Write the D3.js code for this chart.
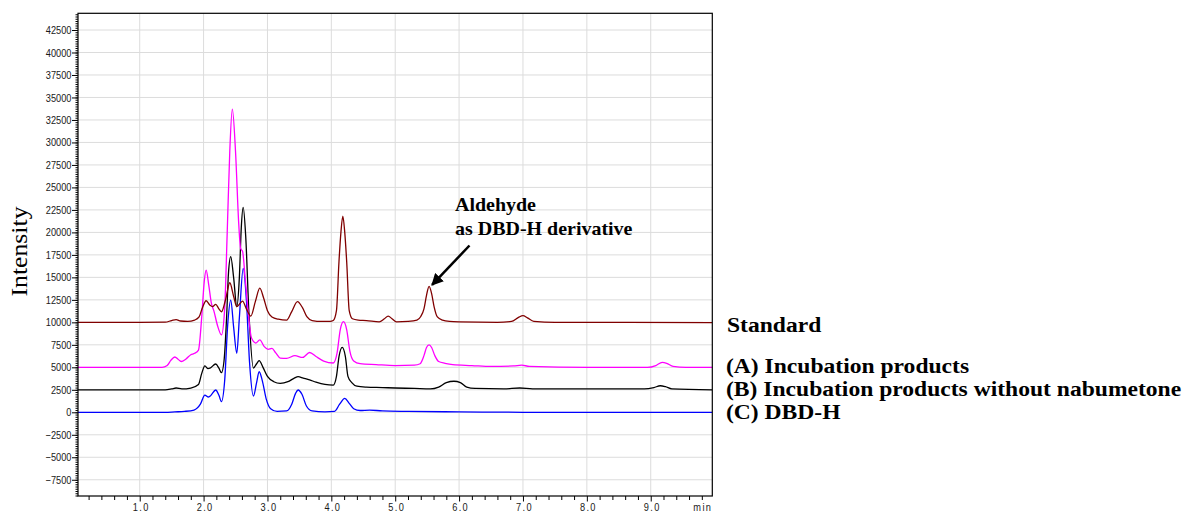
<!DOCTYPE html>
<html>
<head>
<meta charset="utf-8">
<script src="https://cdn.jsdelivr.net/npm/d3@7/dist/d3.min.js"></script>
<style>
  html, body { margin: 0; padding: 0; background: #fff; }
  svg { display: block; }
  .tick text { font-family: "Liberation Sans", Arial, sans-serif; font-size: 11px; fill: #1a1a1a; }
</style>
</head>
<body>
<svg id="chart" width="1184" height="513"></svg>
<script>
// ---- data (time in min, intensity) ----
const standardPoints = [[0.03,10000],[1.0,10000],[1.40,10020],[1.50,10200],[1.57,10300],[1.64,10150],[1.75,10100],[1.86,10250],[1.93,10600],[1.98,11600],[2.04,12400],[2.10,11900],[2.14,11750],[2.19,12000],[2.24,11500],[2.28,11180],[2.35,12700],[2.41,14400],[2.47,12900],[2.52,11750],[2.57,12100],[2.61,12350],[2.67,11500],[2.74,10700],[2.81,12300],[2.88,13800],[2.94,12700],[3.00,11300],[3.07,10600],[3.17,10350],[3.30,10250],[3.38,11200],[3.47,12300],[3.55,11600],[3.62,10600],[3.70,10200],[3.85,10100],[3.98,10100],[4.03,10200],[4.08,11300],[4.12,16800],[4.15,20000],[4.18,21800],[4.21,20000],[4.24,16800],[4.28,11300],[4.33,10400],[4.42,10250],[4.55,10200],[4.75,10050],[4.83,10400],[4.89,10700],[4.95,10400],[5.02,10050],[5.20,10100],[5.34,10250],[5.40,10650],[5.45,11500],[5.49,13000],[5.53,14000],[5.57,13200],[5.61,11700],[5.66,10600],[5.74,10250],[5.85,10100],[6.00,10050],[6.60,10000],[6.82,10100],[6.93,10550],[7.00,10750],[7.07,10500],[7.17,10100],[7.50,10000],[8.50,10000],[9.96,9980]];
const incubationPoints = [[0.03,5000],[1.35,5000],[1.43,5200],[1.49,5800],[1.55,6150],[1.60,5900],[1.65,5650],[1.72,5900],[1.80,6400],[1.86,6560],[1.92,6920],[1.97,10500],[2.01,14500],[2.04,15800],[2.08,14200],[2.12,12200],[2.16,11300],[2.22,9600],[2.28,8600],[2.33,11500],[2.37,20000],[2.41,29000],[2.45,33700],[2.50,29000],[2.55,21000],[2.58,18200],[2.61,17900],[2.65,15000],[2.70,11000],[2.75,8260],[2.82,7700],[2.88,8050],[2.95,7300],[3.01,7000],[3.07,7100],[3.13,6600],[3.20,6030],[3.30,6000],[3.43,6300],[3.55,6100],[3.66,6650],[3.76,6200],[3.88,5700],[4.03,5480],[4.09,6600],[4.14,9200],[4.19,10070],[4.24,9200],[4.29,6800],[4.35,5700],[4.45,5400],[4.70,5300],[5.00,5200],[5.30,5250],[5.39,5400],[5.45,6300],[5.49,7200],[5.53,7500],[5.57,7200],[5.62,6300],[5.68,5650],[5.78,5450],[5.90,5300],[6.20,5200],[6.50,5100],[6.85,5150],[6.98,5250],[7.10,5100],[8.00,5000],[8.95,5000],[9.08,5200],[9.18,5550],[9.25,5450],[9.35,5100],[9.55,5000],[9.96,5000]];
const withoutNabumetonePoints = [[0.03,2500],[1.40,2500],[1.50,2600],[1.57,2700],[1.66,2600],[1.80,2700],[1.92,3100],[1.97,4300],[2.02,5150],[2.07,4850],[2.10,4900],[2.19,5370],[2.24,4900],[2.28,4400],[2.32,5700],[2.36,10500],[2.39,15500],[2.425,17300],[2.47,15000],[2.52,11740],[2.56,15000],[2.59,20500],[2.62,22780],[2.66,19500],[2.71,11000],[2.78,4920],[2.83,5400],[2.87,5740],[2.93,5000],[3.00,4000],[3.10,3400],[3.20,3220],[3.32,3400],[3.42,3800],[3.48,3960],[3.56,3800],[3.66,3600],[3.76,3350],[3.90,3100],[4.03,3030],[4.08,4000],[4.12,6200],[4.17,7220],[4.22,6200],[4.26,4000],[4.32,3300],[4.40,2900],[4.55,2800],[4.80,2750],[5.00,2700],[5.30,2650],[5.55,2600],[5.68,2800],[5.80,3300],[5.92,3450],[6.02,3300],[6.12,2800],[6.25,2650],[6.70,2600],[6.95,2700],[7.15,2600],[8.00,2600],[8.90,2600],[9.05,2750],[9.15,2950],[9.23,2850],[9.33,2600],[9.96,2500]];
const dbdhPoints = [[0.03,0],[1.40,0],[1.55,50],[1.70,100],[1.85,250],[1.95,900],[2.02,1920],[2.07,1700],[2.11,1850],[2.19,2480],[2.24,1900],[2.28,1180],[2.33,3500],[2.38,10000],[2.425,12480],[2.47,9500],[2.52,6560],[2.56,10500],[2.62,16000],[2.67,12500],[2.72,5500],[2.78,1810],[2.83,3300],[2.87,4510],[2.92,3500],[2.98,1500],[3.05,400],[3.15,100],[3.30,150],[3.38,900],[3.44,2100],[3.48,2480],[3.54,2000],[3.61,700],[3.70,150],[3.90,50],[4.05,100],[4.13,900],[4.21,1550],[4.28,1000],[4.35,400],[4.45,200],[4.60,250],[4.80,150],[5.20,100],[6.00,50],[7.00,0],[9.96,0]];

const seriesNames = ["(C) DBD-H", "(B) Incubation products without nabumetone", "(A) Incubation products", "Standard"];
const seriesColors = ["#0000ff", "#000000", "#ff00ff", "#800000"];
const seriesData = [dbdhPoints, withoutNabumetonePoints, incubationPoints, standardPoints];

const yMajorTicks = [-7500,-5000,-2500,0,2500,5000,7500,10000,12500,15000,17500,20000,22500,25000,27500,30000,32500,35000,37500,40000,42500];
const xMajorTicks = [1,2,3,4,5,6,7,8,9];
const xTickLabels = ["1.0","2.0","3.0","4.0","5.0","6.0","7.0","8.0","9.0"];
const legendLabels = ["Standard", "(A) Incubation products", "(B) Incubation products without nabumetone", "(C) DBD-H"];
const annotationLines = ["Aldehyde", "as DBD-H derivative"];
const annotationPeak = [5.53, 14000];

// ---- layout ----
const svg = d3.select("#chart");
const L = 78, R = 712.3, T = 13.3, B = 496;
const x = d3.scaleLinear().domain([0.034, 9.964]).range([L, R]);
const y = d3.scaleLinear().domain([-9305, 44357]).range([B, T]);
const serif = '"Liberation Serif", "Times New Roman", serif';

svg.append("rect").attr("width",1184).attr("height",513).attr("fill","#fff");

// grid
const grid = svg.append("g");
grid.selectAll("line.h").data(yMajorTicks).join("line")
  .attr("x1", L).attr("x2", R).attr("y1", d => y(d)).attr("y2", d => y(d))
  .attr("stroke", "#dcdcdc").attr("stroke-width", 1);
grid.selectAll("line.v").data(xMajorTicks).join("line")
  .attr("y1", T).attr("y2", B).attr("x1", d => x(d)).attr("x2", d => x(d))
  .attr("stroke", "#dcdcdc").attr("stroke-width", 1);

// series
const line = d3.line().x(d => x(d[0])).y(d => y(d[1])).curve(d3.curveMonotoneX);
seriesData.forEach((pts, i) => {
  svg.append("path").datum(pts).attr("d", line)
    .attr("fill", "none").attr("stroke", seriesColors[i]).attr("stroke-width", 1.3);
});

// frame
svg.append("rect").attr("x", L).attr("y", T).attr("width", R - L).attr("height", B - T)
  .attr("fill", "none").attr("stroke", "#000").attr("stroke-width", 1.2);

// y axis
const yMinor = d3.range(-9250, 44400, 250);
svg.append("g").attr("transform", `translate(${L},0)`)
  .call(d3.axisLeft(y).tickValues(yMinor).tickSize(2.5).tickFormat(""))
  .call(g => g.select(".domain").remove());
svg.append("g").attr("transform", `translate(${L},0)`)
  .call(d3.axisLeft(y).tickValues(yMajorTicks).tickSize(6).tickPadding(1).tickFormat(d3.format("d")))
  .call(g => g.select(".domain").remove())
  .call(g => g.selectAll("text").attr("x", 0).attr("transform", "translate(-6.5,0) scale(0.84,1)"));

// x axis
const xMinor = d3.range(0.2, 9.9, 0.2).filter(v => Math.abs(v - Math.round(v)) > 0.01);
svg.append("g").attr("transform", `translate(0,${B})`)
  .call(d3.axisBottom(x).tickValues(xMinor).tickSize(4).tickFormat(""))
  .call(g => g.select(".domain").remove());
svg.append("g").attr("transform", `translate(0,${B})`)
  .call(d3.axisBottom(x).tickValues(xMajorTicks).tickSize(5.5).tickPadding(3)
    .tickFormat((d, i) => xTickLabels[i]))
  .call(g => g.select(".domain").remove())
  .call(g => g.selectAll("text").attr("y", 0).attr("dy", 0)
    .attr("letter-spacing", "1.6px")
    .attr("transform", "translate(1,14.5) scale(0.84,1)"));
svg.append("text").attr("transform", `translate(${x(9.8) + 1},510.5) scale(0.84,1)`)
  .attr("text-anchor", "middle")
  .style("font-family", '"Liberation Sans", Arial, sans-serif')
  .style("font-size", "11px").attr("fill", "#1a1a1a").attr("letter-spacing", "1.6px").text("min");

// y label
svg.append("text").attr("transform", "translate(27,251.5) rotate(-90) scale(1.12,1)")
  .attr("text-anchor", "middle")
  .style("font-family", serif)
  .style("font-size", "23px").attr("fill", "#000").text("Intensity");

// legend
const legendY = [331.5, 373, 396, 419];
const legendX = [727, 726, 726, 726];
legendLabels.forEach((t, i) => {
  svg.append("text").attr("transform", `translate(${legendX[i]},${legendY[i]}) scale(1.15,1)`)
    .style("font-family", serif)
    .style("font-weight", "bold").style("font-size", "20.5px").attr("fill", "#000").text(t);
});

// annotation
annotationLines.forEach((t, i) => {
  svg.append("text").attr("transform", `translate(455,${211 + i * 23.5}) scale(1.11,1)`)
    .style("font-family", serif)
    .style("font-weight", "bold").style("font-size", "18px").attr("fill", "#000").text(t);
});
svg.append("defs").append("marker").attr("id", "arrow")
  .attr("viewBox", "0 0 10 10").attr("refX", 9).attr("refY", 5)
  .attr("markerWidth", 4.8).attr("markerHeight", 4.8).attr("orient", "auto")
  .append("path").attr("d", "M0,0 L10,5 L0,10 Z").attr("fill", "#000");
const tip = [x(annotationPeak[0]) + 3, y(annotationPeak[1]) - 1.5];
svg.append("line").attr("x1", 469.5).attr("y1", 245.5).attr("x2", tip[0]).attr("y2", tip[1])
  .attr("stroke", "#000").attr("stroke-width", 2.5).attr("marker-end", "url(#arrow)");
</script>
</body>
</html>
